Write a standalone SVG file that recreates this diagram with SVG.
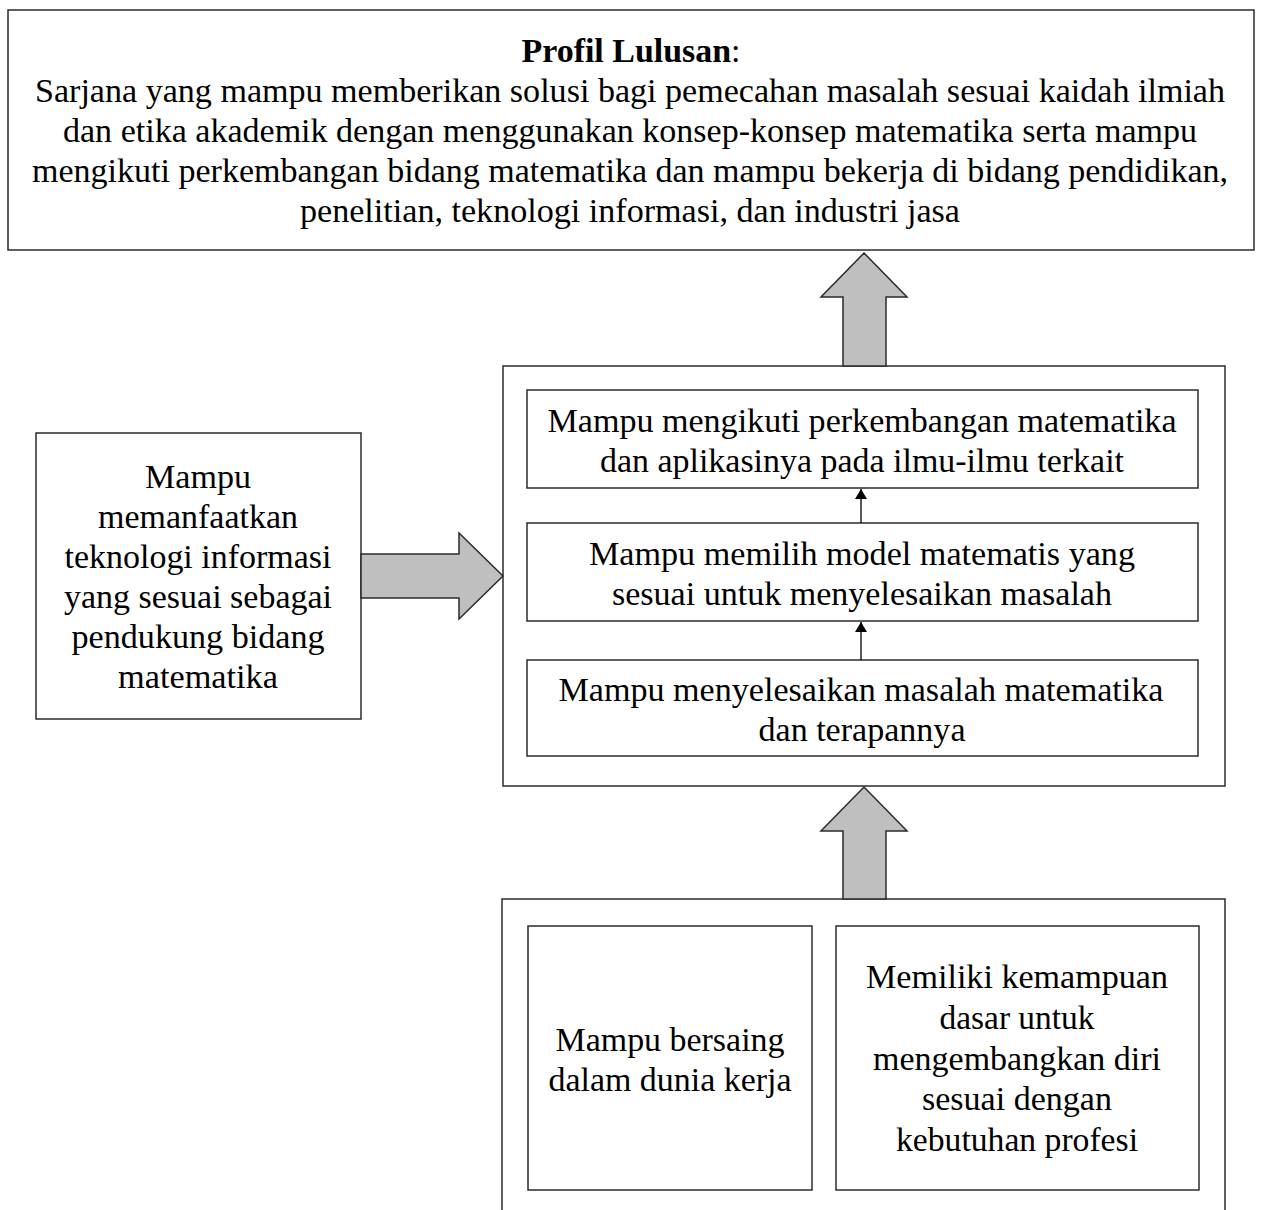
<svg xmlns="http://www.w3.org/2000/svg" width="1261" height="1210" viewBox="0 0 1261 1210">
<defs>
<style>
.box{fill:#fff;stroke:#2b2b2b;stroke-width:1.5}
.big{fill:#bfbfbf;stroke:#2b2b2b;stroke-width:1.5;stroke-linejoin:miter}
.t{font-family:"Liberation Serif","Times New Roman",serif;font-size:33px;fill:#000;text-anchor:middle}
.b{font-weight:bold}
.thin{stroke:#000;stroke-width:1.3;fill:none}
</style>
<marker id="ah" markerWidth="10" markerHeight="12" refX="10" refY="6" orient="auto" markerUnits="userSpaceOnUse">
<path d="M0,0 L10,6 L0,12 z" fill="#000"/>
</marker>
</defs>
<rect width="1261" height="1210" fill="#fff"/>

<g id="profil">
<rect class="box" x="8" y="10" width="1246" height="240"/>
<text class="t" x="631" y="62" textLength="219" lengthAdjust="spacingAndGlyphs"><tspan class="b">Profil Lulusan</tspan>:</text>
<text class="t" x="630" y="102" textLength="1190" lengthAdjust="spacingAndGlyphs">Sarjana yang mampu memberikan solusi bagi pemecahan masalah sesuai kaidah ilmiah</text>
<text class="t" x="630" y="142" textLength="1134" lengthAdjust="spacingAndGlyphs">dan etika akademik dengan menggunakan konsep-konsep matematika serta mampu</text>
<text class="t" x="630" y="182" textLength="1196" lengthAdjust="spacingAndGlyphs">mengikuti perkembangan bidang matematika dan mampu bekerja di bidang pendidikan,</text>
<text class="t" x="630" y="222" textLength="660" lengthAdjust="spacingAndGlyphs">penelitian, teknologi informasi, dan industri jasa</text>
</g>

<g id="teknologi">
<rect class="box" x="36" y="433" width="325" height="286"/>
<text class="t" x="198" y="488" textLength="106" lengthAdjust="spacingAndGlyphs">Mampu</text>
<text class="t" x="198" y="528" textLength="200" lengthAdjust="spacingAndGlyphs">memanfaatkan</text>
<text class="t" x="198" y="568" textLength="267" lengthAdjust="spacingAndGlyphs">teknologi informasi</text>
<text class="t" x="198" y="608" textLength="268" lengthAdjust="spacingAndGlyphs">yang sesuai sebagai</text>
<text class="t" x="198" y="648" textLength="253" lengthAdjust="spacingAndGlyphs">pendukung bidang</text>
<text class="t" x="198" y="688" textLength="160" lengthAdjust="spacingAndGlyphs">matematika</text>
</g>

<g id="kemampuan">
<rect class="box" x="503" y="366" width="722" height="420"/>
</g>

<g id="mengikuti">
<rect class="box" x="527" y="390" width="671" height="98"/>
<text class="t" x="862" y="432" textLength="629" lengthAdjust="spacingAndGlyphs">Mampu mengikuti perkembangan matematika</text>
<text class="t" x="862" y="472" textLength="524" lengthAdjust="spacingAndGlyphs">dan aplikasinya pada ilmu-ilmu terkait</text>
</g>

<g id="memilih">
<rect class="box" x="527" y="523" width="671" height="98"/>
<text class="t" x="862" y="565" textLength="546" lengthAdjust="spacingAndGlyphs">Mampu memilih model matematis yang</text>
<text class="t" x="862" y="605" textLength="500" lengthAdjust="spacingAndGlyphs">sesuai untuk menyelesaikan masalah</text>
</g>

<g id="menyelesaikan">
<rect class="box" x="527" y="660" width="671" height="96"/>
<text class="t" x="861" y="701" textLength="605" lengthAdjust="spacingAndGlyphs">Mampu menyelesaikan masalah matematika</text>
<text class="t" x="862" y="741" textLength="207" lengthAdjust="spacingAndGlyphs">dan terapannya</text>
</g>

<g id="dasar">
<path class="box" d="M502,1212 L502,899 L1225,899 L1225,1212"/>
</g>

<g id="bersaing">
<rect class="box" x="528" y="926" width="284" height="264"/>
<text class="t" x="670" y="1051" textLength="229" lengthAdjust="spacingAndGlyphs">Mampu bersaing</text>
<text class="t" x="670" y="1091" textLength="243" lengthAdjust="spacingAndGlyphs">dalam dunia kerja</text>
</g>

<g id="profesi">
<rect class="box" x="836" y="926" width="363" height="264"/>
<text class="t" x="1017" y="988" textLength="302" lengthAdjust="spacingAndGlyphs">Memiliki kemampuan</text>
<text class="t" x="1017" y="1029" textLength="155" lengthAdjust="spacingAndGlyphs">dasar untuk</text>
<text class="t" x="1017" y="1070" textLength="288" lengthAdjust="spacingAndGlyphs">mengembangkan diri</text>
<text class="t" x="1017" y="1110" textLength="190" lengthAdjust="spacingAndGlyphs">sesuai dengan</text>
<text class="t" x="1017" y="1151" textLength="242" lengthAdjust="spacingAndGlyphs">kebutuhan profesi</text>
</g>

<g id="connectors">
<path class="big" d="M843,366 L843,297 L821,297 L864,253 L907,297 L886,297 L886,366 Z"/>
<path class="big" d="M843,899 L843,831 L821,831 L864,787 L907,831 L886,831 L886,899 Z"/>
<path class="big" d="M361,554 L459,554 L459,533 L503,576 L459,619 L459,598 L361,598 Z"/>
<line class="thin" x1="861" y1="523" x2="861" y2="489" marker-end="url(#ah)"/>
<line class="thin" x1="861" y1="660" x2="861" y2="622" marker-end="url(#ah)"/>
</g>
</svg>
